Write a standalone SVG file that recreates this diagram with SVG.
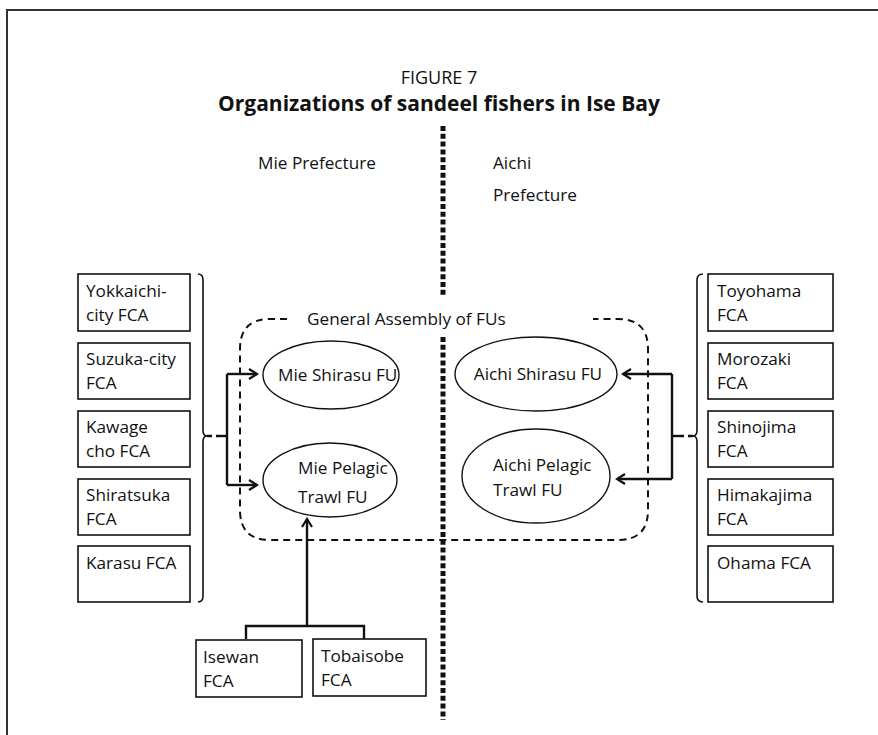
<svg xmlns="http://www.w3.org/2000/svg" width="878" height="735" viewBox="0 0 878 735">
  <style>
    text { font-family: "Open Sans", "Noto Sans", "Liberation Sans", sans-serif; fill: #111; }
    .lbl { font-size: 17.2px; }
    .box { fill: #fff; stroke: #111; stroke-width: 1.6; }
    .fu { fill: #fff; stroke: #111; stroke-width: 1.4; }
    .link { fill: none; stroke: #111; stroke-width: 2.4; }
    .dash { fill: none; stroke: #111; stroke-width: 2; stroke-dasharray: 7 5; }
    .brace { fill: none; stroke: #111; stroke-width: 1.6; }
  </style>
  <defs>
    <marker id="arr" markerWidth="12" markerHeight="12" refX="10" refY="6" orient="auto" markerUnits="userSpaceOnUse">
      <path d="M2,1 L10,6 L2,11" fill="none" stroke="#111" stroke-width="2.2"/>
    </marker>
  </defs>

  <rect width="878" height="735" fill="#fff"/>
  <!-- page frame -->
  <path d="M7,735 V10 H878" fill="none" stroke="#333" stroke-width="2"/>

  <!-- title -->
  <text x="439" y="84" text-anchor="middle" font-size="18">FIGURE 7</text>
  <text x="439" y="111" text-anchor="middle" font-size="21" font-weight="bold">Organizations of sandeel fishers in Ise Bay</text>

  <!-- prefecture boundary -->
  <g id="boundary" fill="none" stroke="#111" stroke-width="5" stroke-dasharray="5 2.8">
    <line x1="443" y1="126" x2="443" y2="297"/>
    <line x1="443" y1="337" x2="443" y2="720"/>
  </g>
  <text class="lbl" x="258" y="169">Mie Prefecture</text>
  <text class="lbl" x="493" y="169">Aichi</text>
  <text class="lbl" x="493" y="201">Prefecture</text>

  <!-- general assembly -->
  <g id="assembly">
    <path class="dash" d="M287,319 H270 Q240,319 240,349 V510 Q240,540 270,540 H618 Q648,540 648,510 V349 Q648,319 618,319 H593"/>
    <text class="lbl" x="307" y="325">General Assembly of FUs</text>
  </g>

  <!-- connectors -->
  <g id="connectors">
    <path class="brace" d="M198,274 Q203,274 203,280 V430 Q203,436 207,436 Q203,436 203,442 V596 Q203,602 198,602"/>
    <line x1="207" y1="436" x2="220" y2="436" stroke="#111" stroke-width="2.4" stroke-dasharray="5 4"/>
    <path class="link" d="M220,436 H227"/>
    <path class="link" d="M227,374 V485"/>
    <path class="link" d="M227,374 H257" marker-end="url(#arr)"/>
    <path class="link" d="M227,485 H257" marker-end="url(#arr)"/>

    <path class="brace" d="M703,274 Q697,274 697,280 V430 Q697,436 693,436 Q697,436 697,442 V596 Q697,602 703,602"/>
    <line x1="693" y1="436" x2="680" y2="436" stroke="#111" stroke-width="2.4" stroke-dasharray="5 4"/>
    <path class="link" d="M680,436 H672"/>
    <path class="link" d="M672,374 V479"/>
    <path class="link" d="M672,374 H623" marker-end="url(#arr)"/>
    <path class="link" d="M672,479 H617" marker-end="url(#arr)"/>

    <path class="link" d="M246,639 V626 H364 V639"/>
    <path class="link" d="M307,626 V519" marker-end="url(#arr)"/>
  </g>

  <!-- Mie FCAs -->
  <g id="yokkaichi"><rect class="box" x="78" y="274" width="112" height="57"/><text class="lbl" x="86" y="297">Yokkaichi-</text><text class="lbl" x="86" y="321">city FCA</text></g>
  <g id="suzuka"><rect class="box" x="78" y="343" width="112" height="56"/><text class="lbl" x="86" y="365">Suzuka-city</text><text class="lbl" x="86" y="389">FCA</text></g>
  <g id="kawage"><rect class="box" x="78" y="411" width="112" height="56"/><text class="lbl" x="86" y="433">Kawage</text><text class="lbl" x="86" y="457">cho FCA</text></g>
  <g id="shiratsuka"><rect class="box" x="78" y="479" width="112" height="56"/><text class="lbl" x="86" y="501">Shiratsuka</text><text class="lbl" x="86" y="525">FCA</text></g>
  <g id="karasu"><rect class="box" x="78" y="546" width="112" height="56"/><text class="lbl" x="86" y="569">Karasu FCA</text></g>

  <!-- Aichi FCAs -->
  <g id="toyohama"><rect class="box" x="708" y="274" width="125" height="57"/><text class="lbl" x="717" y="297">Toyohama</text><text class="lbl" x="717" y="321">FCA</text></g>
  <g id="morozaki"><rect class="box" x="708" y="343" width="125" height="56"/><text class="lbl" x="717" y="365">Morozaki</text><text class="lbl" x="717" y="389">FCA</text></g>
  <g id="shinojima"><rect class="box" x="708" y="411" width="125" height="56"/><text class="lbl" x="717" y="433">Shinojima</text><text class="lbl" x="717" y="457">FCA</text></g>
  <g id="himakajima"><rect class="box" x="708" y="479" width="125" height="56"/><text class="lbl" x="717" y="501">Himakajima</text><text class="lbl" x="717" y="525">FCA</text></g>
  <g id="ohama"><rect class="box" x="708" y="546" width="125" height="56"/><text class="lbl" x="717" y="569">Ohama FCA</text></g>

  <!-- fishers' unions -->
  <g id="mie-shirasu"><ellipse class="fu" cx="331" cy="375" rx="68" ry="34"/><text class="lbl" x="278" y="381">Mie Shirasu FU</text></g>
  <g id="mie-pelagic"><ellipse class="fu" cx="330" cy="480" rx="67" ry="37"/><text class="lbl" x="298" y="474">Mie Pelagic</text><text class="lbl" x="298" y="503">Trawl FU</text></g>
  <g id="aichi-shirasu"><ellipse class="fu" cx="536" cy="374" rx="81" ry="37"/><text class="lbl" x="538" y="380" text-anchor="middle">Aichi Shirasu FU</text></g>
  <g id="aichi-pelagic"><ellipse class="fu" cx="536" cy="476" rx="74" ry="47"/><text class="lbl" x="493" y="471">Aichi Pelagic</text><text class="lbl" x="493" y="496">Trawl FU</text></g>

  <!-- Ise Bay FCAs -->
  <g id="isewan"><rect class="box" x="196" y="640" width="106" height="57"/><text class="lbl" x="203" y="663">Isewan</text><text class="lbl" x="203" y="687">FCA</text></g>
  <g id="tobaisobe"><rect class="box" x="313" y="639" width="113" height="57"/><text class="lbl" x="321" y="662">Tobaisobe</text><text class="lbl" x="321" y="686">FCA</text></g>
</svg>
